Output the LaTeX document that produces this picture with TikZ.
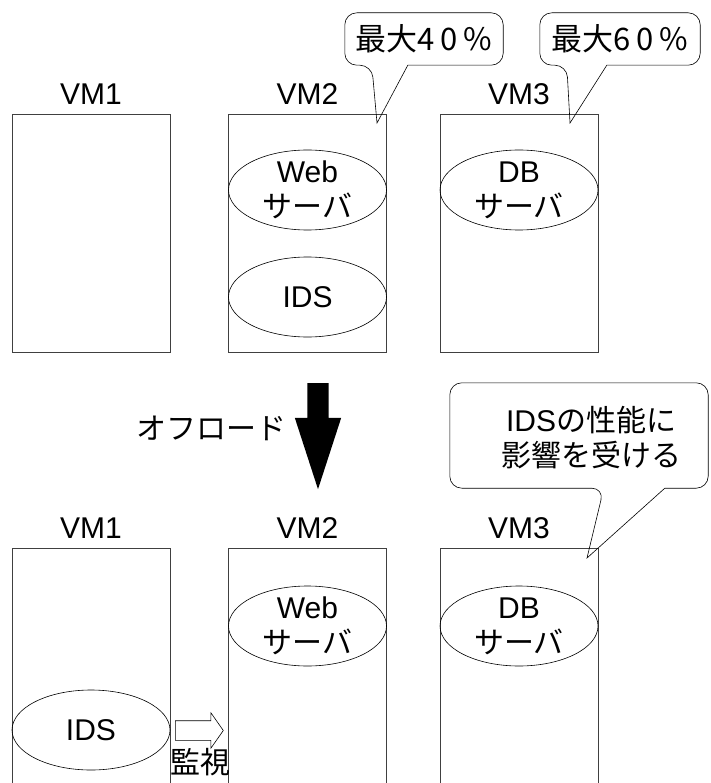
\documentclass[tikz,border=0pt]{standalone}
\usepackage{fontspec}
\setmainfont{Liberation Sans}
\newfontfamily\jp{Noto Sans CJK JP}
\usetikzlibrary{shapes.geometric,shapes.arrows}

\begin{document}
\begin{tikzpicture}
	[x=1pt,y=-1pt,every node/.style={font=\fontsize{30}{35}\selectfont}]
	\tikzset{vm/.style = {draw=black!75,line width=.8pt,minimum width=158pt,inner sep=0pt}}
	\tikzset{proc/.style = {ellipse,draw,line width=.6pt,minimum width=158pt,minimum height=80pt,inner sep=-3pt,align=center}}
	\tikzset{bubble/.style = {line width=.6pt,rounded corners=12pt}}
	\tikzset{maxtxt/.style = {font=\fontsize{31}{35}\selectfont,minimum height=52pt,inner sep=0pt}}
	\useasboundingbox (0,0) rectangle (710,783);
	\clip (0,0) rectangle (710,783);
	
	\foreach \n/\x in {1/91,2/307.5,3/519}{
	\node[vm,minimum height=238pt] (up\n) at (\x,233) {};
	\node (uplbl\n) at (\x,94) {VM\n};
	\node[vm,minimum height=260pt] (lo\n) at (\x,678) {};
	\node (lolbl\n) at (\x,528) {VM\n};
	}
	
	\node[proc] (web1) at (307.5,190) {Web\\{\jp サーバ}};
	\node[proc] (ids1) at (307.5,297) {IDS};
	\node[proc] (db1) at (519,190) {DB\\{\jp サーバ}};
	\node[proc] (web2) at (307.5,626) {Web\\{\jp サーバ}};
	\node[proc] (db2) at (519,626) {DB\\{\jp サーバ}};
	\node[proc] (ids2) at (91,730) {IDS};
	
	\node[single arrow,fill=black,minimum height=106pt,minimum width=46pt,single arrow head extend=12.5pt,single arrow tip angle=36,inner xsep=0pt,inner ysep=10.5pt,rotate=-90,anchor=tail] (offload) at (318,383) {};
	\node[anchor=east] (offloadlbl) at (290,428) {\jp オフロード};
	\node[single arrow,draw,fill=white,line width=.6pt,minimum height=48pt,minimum width=35pt,single arrow head extend=8pt,single arrow tip angle=110,inner xsep=0pt,inner ysep=9.5pt,anchor=tail] (watch) at (175,730.5) {};
	\node (watchlbl) at (200,762) {\jp 監視};
	
	% callouts
	\node[maxtxt,minimum width=158pt] (max40) at (424,39) {\jp 最大4\kern6pt0\kern6pt\%};
	\coordinate (tip40) at (377,123);
	\draw[bubble] (max40.north) -- (max40.north west) -- (max40.south west) -- ([xshift=27pt]max40.south west) [sharp corners] -- (tip40) -- ([xshift=63pt]max40.south west) [rounded corners=12pt] -- (max40.south east) -- (max40.north east) -- cycle;
	\node[maxtxt,minimum width=160pt] (max60) at (620,39) {\jp 最大6\kern6pt0\kern6pt\%};
	\coordinate (tip60) at (570,123);
	\draw[bubble] (max60.north) -- (max60.north west) -- (max60.south west) -- ([xshift=27pt]max60.south west) [sharp corners] -- (tip60) -- ([xshift=67pt]max60.south west) [rounded corners=12pt] -- (max60.south east) -- (max60.north east) -- cycle;
	\node[minimum width=258pt,minimum height=105pt,inner sep=0pt] (effect) at (579,435.5) {};
	\node[align=center] (effecttxt) at (591,438) {IDS{\jp の性能に}\\{\jp 影響を受ける}};
	\coordinate (tipfx) at (587,558);
	\draw[bubble] (effect.north) -- (effect.north west) -- (effect.south west) -- ([xshift=154pt]effect.south west) [sharp corners] -- (tipfx) -- ([xshift=215pt]effect.south west) [rounded corners=12pt] -- (effect.south east) -- (effect.north east) -- cycle;
\end{tikzpicture}
\end{document}
